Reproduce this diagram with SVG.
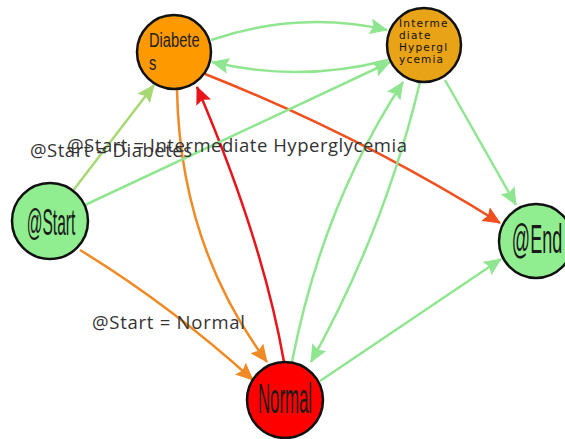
<svg xmlns="http://www.w3.org/2000/svg" width="565" height="439" viewBox="0 0 565 439">
  <style>
    .node circle { stroke: #111; stroke-width: 2.5; }
    .link { fill: none; stroke-width: 2.5; }
    .lbl { font-family: "Open Sans", "Liberation Sans", sans-serif; font-size: 18.5px; fill: #333; }
    .big { font-family: "Liberation Sans", Arial, sans-serif; fill: #1a1a1a; text-anchor: middle; }
    .small { font-family: "DejaVu Sans", Verdana, sans-serif; font-size: 10.5px; fill: #111; letter-spacing: 1.2px; }
  </style>
  <defs>
    <marker id="ah-green" markerUnits="userSpaceOnUse" markerWidth="19" markerHeight="16" refX="17" refY="8" orient="auto">
      <path d="M0,0 L18,8 L0,16 L3,8 Z" fill="#90e690"/>
    </marker>
    <marker id="ah-lime" markerUnits="userSpaceOnUse" markerWidth="19" markerHeight="16" refX="17" refY="8" orient="auto">
      <path d="M0,0 L18,8 L0,16 L3,8 Z" fill="#a8d874"/>
    </marker>
    <marker id="ah-orange" markerUnits="userSpaceOnUse" markerWidth="19" markerHeight="16" refX="17" refY="8" orient="auto">
      <path d="M0,0 L18,8 L0,16 L3,8 Z" fill="#f08a24"/>
    </marker>
    <marker id="ah-orangered" markerUnits="userSpaceOnUse" markerWidth="19" markerHeight="16" refX="17" refY="8" orient="auto">
      <path d="M0,0 L18,8 L0,16 L3,8 Z" fill="#f0501e"/>
    </marker>
    <marker id="ah-red" markerUnits="userSpaceOnUse" markerWidth="19" markerHeight="16" refX="17" refY="8" orient="auto">
      <path d="M0,0 L18,8 L0,16 L3,8 Z" fill="#e8141c"/>
    </marker>
  </defs>

  <g id="links">
    <!-- Diabetes -> Intermediate Hyperglycemia -->
    <path class="link" d="M211,40 Q300,10 387,30" stroke="#90e690" marker-end="url(#ah-green)"/>
    <!-- Intermediate Hyperglycemia -> Diabetes -->
    <path class="link" d="M388,60 Q300,83 212,62" stroke="#90e690" marker-end="url(#ah-green)"/>
    <!-- Diabetes -> @End -->
    <path class="link" d="M205,74 Q359,135 500,223" stroke="#f0501e" marker-end="url(#ah-orangered)"/>
    <!-- Diabetes -> Normal -->
    <path class="link" d="M177,90 Q180,245 267,362" stroke="#f08a24" marker-end="url(#ah-orange)"/>
    <!-- Normal -> Diabetes -->
    <path class="link" d="M284,362 Q263,241 197,87" stroke="#e8141c" marker-end="url(#ah-red)"/>
    <!-- @Start -> Diabetes -->
    <path class="link" d="M72,192 L154,85" stroke="#a8d874" marker-end="url(#ah-lime)"/>
    <!-- @Start -> Intermediate Hyperglycemia -->
    <path class="link" d="M85,205 L390,62" stroke="#90e690" marker-end="url(#ah-green)"/>
    <!-- @Start -> Normal -->
    <path class="link" d="M80,250 Q170,305 253,380" stroke="#f08a24" marker-end="url(#ah-orange)"/>
    <!-- Intermediate Hyperglycemia -> @End -->
    <path class="link" d="M445,80 L516,205" stroke="#90e690" marker-end="url(#ah-green)"/>
    <!-- Intermediate Hyperglycemia -> Normal -->
    <path class="link" d="M420,82 Q385,229 311,362" stroke="#90e690" marker-end="url(#ah-green)"/>
    <!-- Normal -> Intermediate Hyperglycemia -->
    <path class="link" d="M292,362 Q322,206 403,82" stroke="#90e690" marker-end="url(#ah-green)"/>
    <!-- Normal -> @End -->
    <path class="link" d="M320,381 L501,259" stroke="#90e690" marker-end="url(#ah-green)"/>
  </g>

  <g id="link-labels">
    <text class="lbl" x="30" y="157" textLength="162" lengthAdjust="spacing">@Start = Diabetes</text>
    <text class="lbl" x="67" y="152" textLength="340" lengthAdjust="spacing">@Start = Intermediate Hyperglycemia</text>
    <text class="lbl" x="92" y="329" textLength="153" lengthAdjust="spacing">@Start = Normal</text>
  </g>

  <g id="node-diabetes" class="node">
    <circle cx="174" cy="52" r="37" fill="#ff9900"/>
    <g transform="translate(149,0) scale(0.7,1)">
      <text x="0" y="47" font-family="Liberation Sans, Arial, sans-serif" font-size="21" fill="#222">Diabete</text>
      <text x="0" y="70" font-family="Liberation Sans, Arial, sans-serif" font-size="21" fill="#222">s</text>
    </g>
  </g>

  <g id="node-intermediate" class="node">
    <circle cx="424" cy="45" r="37" fill="#e8a317"/>
    <text class="small" x="399" y="27">Interme</text>
    <text class="small" x="399" y="39">diate</text>
    <text class="small" x="399" y="51">Hypergl</text>
    <text class="small" x="399" y="63">ycemia</text>
  </g>

  <g id="node-start" class="node">
    <circle cx="50" cy="221" r="38" fill="#90ee90"/>
    <text class="big" font-size="37" transform="translate(51,235) scale(0.42,1)">@Start</text>
  </g>

  <g id="node-end" class="node">
    <circle cx="536" cy="241" r="37" fill="#90ee90"/>
    <text class="big" font-size="40" transform="translate(537,253) scale(0.45,1)">@End</text>
  </g>

  <g id="node-normal" class="node">
    <circle cx="285" cy="400" r="38" fill="#ff0000"/>
    <text class="big" font-size="42" transform="translate(285,413) scale(0.4,1)">Normal</text>
  </g>
</svg>
